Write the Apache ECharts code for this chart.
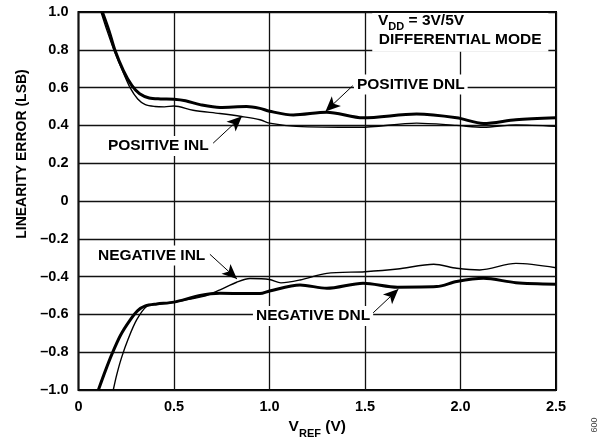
<!DOCTYPE html>
<html><head><meta charset="utf-8">
<script src="https://cdn.jsdelivr.net/npm/echarts@6/dist/echarts.min.js"></script>
<style>html,body{margin:0;padding:0;background:#fff}#c{width:599px;height:444px}</style>
</head><body><div id="c"></div>
<script>
// ---- data (V_REF in V, linearity error in LSB) ----
const posDNL = [[0.125,1.0],[0.16,0.9],[0.19,0.80],[0.235,0.69],[0.28,0.61],[0.32,0.567],[0.37,0.545],[0.43,0.54],[0.5,0.538],[0.56,0.53],[0.636,0.51],[0.741,0.495],[0.88,0.50],[0.95,0.49],[1.0,0.475],[1.125,0.455],[1.3,0.47],[1.49,0.44],[1.77,0.46],[1.98,0.44],[2.12,0.41],[2.29,0.43],[2.5,0.44]];
const posINL = [[0.118,1.0],[0.15,0.9],[0.185,0.80],[0.23,0.69],[0.27,0.60],[0.31,0.54],[0.35,0.51],[0.4,0.5],[0.45,0.498],[0.5,0.503],[0.6,0.48],[0.74,0.463],[0.854,0.447],[0.95,0.43],[1.0,0.412],[1.14,0.395],[1.47,0.39],[1.77,0.412],[1.98,0.40],[2.12,0.39],[2.29,0.403],[2.5,0.395]];
const negDNL = [[0.104,-1.0],[0.14,-0.9],[0.175,-0.81],[0.22,-0.71],[0.27,-0.63],[0.31,-0.58],[0.35,-0.555],[0.41,-0.545],[0.5,-0.535],[0.636,-0.50],[0.74,-0.488],[0.88,-0.49],[0.95,-0.49],[1.0,-0.476],[1.16,-0.444],[1.3,-0.462],[1.49,-0.435],[1.67,-0.456],[1.875,-0.453],[1.98,-0.426],[2.12,-0.409],[2.29,-0.432],[2.5,-0.44]];
const negINL = [[0.182,-1.0],[0.2,-0.92],[0.225,-0.83],[0.26,-0.73],[0.305,-0.628],[0.357,-0.558],[0.42,-0.545],[0.5,-0.535],[0.654,-0.505],[0.741,-0.47],[0.828,-0.43],[0.898,-0.41],[1.0,-0.415],[1.06,-0.433],[1.16,-0.418],[1.3,-0.383],[1.5,-0.374],[1.67,-0.36],[1.86,-0.335],[1.98,-0.356],[2.10,-0.365],[2.29,-0.33],[2.5,-0.353]];
const xTicks = [0, 0.5, 1.0, 1.5, 2.0, 2.5];
const yTicks = [-1.0,-0.8,-0.6,-0.4,-0.2,0,0.2,0.4,0.6,0.8,1.0];

// annotation labels: [text, anchor x, anchor y] (left-middle of text), arrows [from, to]
const labelDefs = [
  ['POSITIVE DNL', 1.458, 0.617],
  ['POSITIVE INL', 0.154, 0.291],
  ['NEGATIVE INL', 0.102, -0.288],
  ['NEGATIVE DNL', 0.929, -0.609]
];
const arrowDefs = [
  [[1.436, 0.61], [1.293, 0.474]],
  [[0.705, 0.306], [0.856, 0.448]],
  [[0.688, -0.282], [0.830, -0.413]],
  [[1.536, -0.598], [1.675, -0.466]]
];

const FONT = '"Liberation Sans", Arial, Helvetica, sans-serif';
const chart = echarts.init(document.getElementById('c'), null, {renderer: 'canvas'});

function fmtY(v) {
  if (Math.abs(v) < 1e-9) return '0';
  return (v < 0 ? '\u2013' : '') + Math.abs(v).toFixed(1);
}
function fmtX(v) {
  if (Math.abs(v) < 1e-9) return '0';
  return v.toFixed(1);
}
function ser(name, data, w) {
  return {
    name, type: 'line', data, smooth: 0.3, showSymbol: false, symbol: 'none',
    clip: true, lineStyle: {color: '#000', width: w, join: 'round'}, z: 5
  };
}

chart.setOption({
  animation: false,
  backgroundColor: '#fff',
  textStyle: {fontFamily: FONT},
  grid: {left: 78.5, right: 43, top: 12, bottom: 52, show: true, borderColor: '#000', borderWidth: 2},
  xAxis: {
    type: 'value', min: 0, max: 2.5, interval: 0.5,
    axisLine: {show: false}, axisTick: {show: false},
    splitLine: {show: true, lineStyle: {color: '#111', width: 1.3}},
    axisLabel: {formatter: fmtX, color: '#000', fontFamily: FONT, fontWeight: 'bold', fontSize: 14.5, margin: 9},
    name: '{v|V}{s|REF}{v| (V)}', nameLocation: 'middle', nameGap: 29,
    nameTextStyle: {rich: {
      v: {fontFamily: FONT, fontWeight: 'bold', fontSize: 15.5, color: '#000', verticalAlign: 'bottom', padding: [0,0,4,0]},
      s: {fontFamily: FONT, fontWeight: 'bold', fontSize: 11, color: '#000', verticalAlign: 'bottom'}
    }}
  },
  yAxis: {
    type: 'value', min: -1.0, max: 1.0, interval: 0.2,
    axisLine: {show: false}, axisTick: {show: false},
    splitLine: {show: true, lineStyle: {color: '#111', width: 1.3}},
    axisLabel: {formatter: fmtY, color: '#000', fontFamily: FONT, fontWeight: 'bold', fontSize: 14.5, margin: 10}
  },
  series: [
    ser('Positive DNL', posDNL, 3),
    ser('Positive INL', posINL, 1.4),
    ser('Negative DNL', negDNL, 3),
    ser('Negative INL', negINL, 1.4),
    {
      type: 'line', data: [], silent: true, z: 20,
      markLine: {
        silent: true, animation: false, symbol: ['none', 'arrow'], symbolSize: [10, 15],
        label: {show: false},
        lineStyle: {color: '#000', width: 1, type: 'solid'},
        data: arrowDefs.map(a => [{coord: a[0]}, {coord: a[1]}])
      }
    }
  ]
});

const px = (x, y) => chart.convertToPixel({gridIndex: 0}, [x, y]);
const graphics = [];
labelDefs.forEach(d => {
  const p = px(d[1], d[2]);
  graphics.push({
    type: 'text', x: p[0] - 3, y: p[1], z: 30,
    style: {
      text: d[0], font: 'bold 15.5px ' + FONT, fill: '#000',
      textAlign: 'left', textVerticalAlign: 'middle',
      backgroundColor: '#fff', padding: [2, 3, 2, 3]
    }
  });
});
// V_DD box (white background covering grid lines)
const b1 = px(1.538, 0.995), b2 = px(2.46, 0.79);
graphics.push({type: 'rect', z: 25, shape: {x: b1[0], y: b1[1], width: b2[0] - b1[0], height: b2[1] - b1[1]}, style: {fill: '#fff'}});
const t1 = px(1.568, 0.944), t2 = px(1.572, 0.855);
graphics.push({
  type: 'text', x: t1[0], y: t1[1], z: 30,
  style: {
    text: '{v|V}{s|DD}{v| = 3V/5V}', textAlign: 'left', textVerticalAlign: 'middle',
    rich: {
      v: {font: 'bold 15.5px ' + FONT, fill: '#000', verticalAlign: 'bottom', padding: [0,0,4,0]},
      s: {font: 'bold 11px ' + FONT, fill: '#000', verticalAlign: 'bottom'}
    }
  }
});
graphics.push({
  type: 'text', x: t2[0], y: t2[1], z: 30,
  style: {text: 'DIFFERENTIAL MODE', font: 'bold 15.5px ' + FONT, fill: '#000', textAlign: 'left', textVerticalAlign: 'middle'}
});
// y axis title
graphics.push({
  type: 'text', x: 22, y: 154, rotation: Math.PI / 2, z: 30,
  style: {text: 'LINEARITY ERROR (LSB)', font: 'bold 14px ' + FONT, fill: '#000', textAlign: 'center', textVerticalAlign: 'middle'}
});
// figure number
graphics.push({
  type: 'text', x: 593, y: 425, rotation: -Math.PI / 2, z: 30,
  style: {text: '009', font: '9px ' + FONT, fill: '#444', textAlign: 'center', textVerticalAlign: 'middle'}
});
chart.setOption({graphic: graphics});
</script>
</body></html>
